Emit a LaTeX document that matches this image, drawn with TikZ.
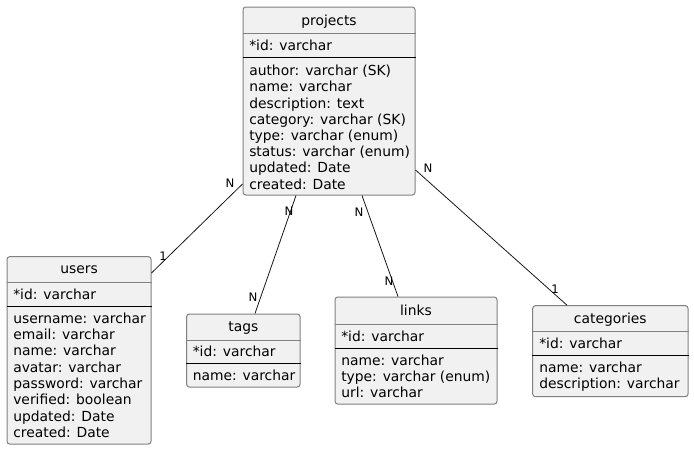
\documentclass[tikz,border=0pt]{standalone}
\usepackage{fontspec}
\setmainfont{DejaVu Sans}
\usetikzlibrary{fit}
\definecolor{efill}{HTML}{F1F1F1}
\definecolor{eborder}{HTML}{808080}
\definecolor{eline}{HTML}{181818}
\tikzset{
  ebox/.style={draw=eborder, fill=efill, line width=0.75pt, rounded corners=2pt, inner sep=0pt},
  gsep/.style={draw=eborder, line width=0.75pt},
  bsep/.style={draw=black, line width=0.75pt},
  etitle/.style={anchor=base, inner sep=0pt, font=\fontsize{10.4pt}{12pt}\selectfont},
  eattr/.style={anchor=base west, inner sep=0pt, font=\fontsize{10.4pt}{12pt}\selectfont},
  rel/.style={draw=eline, line width=0.6pt},
  card/.style={inner sep=0pt, font=\fontsize{8.8pt}{10pt}\selectfont}
}
\begin{document}
\begin{tikzpicture}[x=0.75pt,y=-0.75pt]
\useasboundingbox (0,0) rectangle (694,450);
% projects
\node[ebox, fit={(243,7) (415,195)}] (projects) {};
\draw[gsep] (projects.west |- 0,33) -- (projects.east |- 0,33);
\draw[bsep] (projects.west |- 0,57) -- (projects.east |- 0,57);
\node[etitle] (projects-t) at (329,25) {projects};
\node[eattr] (projects-id) at (249,50) {*id: varchar};
\foreach \t [count=\i] in {author: varchar (SK), name: varchar, description: text, category: varchar (SK), type: varchar (enum), status: varchar (enum), updated: Date, created: Date}
  \node[eattr] (projects-a\i) at (249,{75.7+16.2*(\i-1)}) {\t};
% users
\node[ebox, fit={(7,256.7) (151,444)}] (users) {};
\draw[gsep] (users.west |- 0,282) -- (users.east |- 0,282);
\draw[bsep] (users.west |- 0,306) -- (users.east |- 0,306);
\node[etitle] (users-t) at (79,273.3) {users};
\node[eattr] (users-id) at (13,299) {*id: varchar};
\foreach \t [count=\i] in {username: varchar, email: varchar, name: varchar, avatar: varchar, password: varchar, verified: boolean, updated: Date, created: Date}
  \node[eattr] (users-a\i) at (13,{323.3+16.3*(\i-1)}) {\t};
% tags
\node[ebox, fit={(186.7,314) (300,387)}] (tags) {};
\draw[gsep] (tags.west |- 0,340) -- (tags.east |- 0,340);
\draw[bsep] (tags.west |- 0,363) -- (tags.east |- 0,363);
\node[etitle] (tags-t) at (243.3,331.7) {tags};
\node[eattr] (tags-id) at (192.5,356.7) {*id: varchar};
\node[eattr] (tags-a1) at (192.5,380.7) {name: varchar};
% links
\node[ebox, fit={(335,297) (497,404)}] (links) {};
\draw[gsep] (links.west |- 0,324) -- (links.east |- 0,324);
\draw[bsep] (links.west |- 0,348) -- (links.east |- 0,348);
\node[etitle] (links-t) at (416,315) {links};
\node[eattr] (links-id) at (341,341) {*id: varchar};
\foreach \t [count=\i] in {name: varchar, type: varchar (enum), url: varchar}
  \node[eattr] (links-a\i) at (341,{365.5+16.2*(\i-1)}) {\t};
% categories
\node[ebox, fit={(532.7,305.7) (688,396.7)}] (categories) {};
\draw[gsep] (categories.west |- 0,331) -- (categories.east |- 0,331);
\draw[bsep] (categories.west |- 0,355) -- (categories.east |- 0,355);
\node[etitle] (categories-t) at (610.3,323.7) {categories};
\node[eattr] (categories-id) at (539,348) {*id: varchar};
\foreach \t [count=\i] in {name: varchar, description: varchar}
  \node[eattr] (categories-a\i) at (539,{372.5+16.2*(\i-1)}) {\t};
% relations
\draw[rel] (projects.west |- 0,184) -- (users.east |- 0,273);
\draw[rel] (projects.south -| 296,0) -- (tags.north -| 255,0);
\draw[rel] (projects.south -| 362,0) -- (links.north -| 398,0);
\draw[rel] (projects.east |- 0,170) -- (categories.north -| 567,0);
% cardinalities
\node[card] (c1) at (230,183) {N};
\node[card] (c2) at (163,256) {1};
\node[card] (c3) at (289,211) {N};
\node[card] (c4) at (253,297) {N};
\node[card] (c5) at (359,212) {N};
\node[card] (c6) at (389,281) {N};
\node[card] (c7) at (428,168) {N};
\node[card] (c8) at (555,289) {1};
\end{tikzpicture}
\end{document}
